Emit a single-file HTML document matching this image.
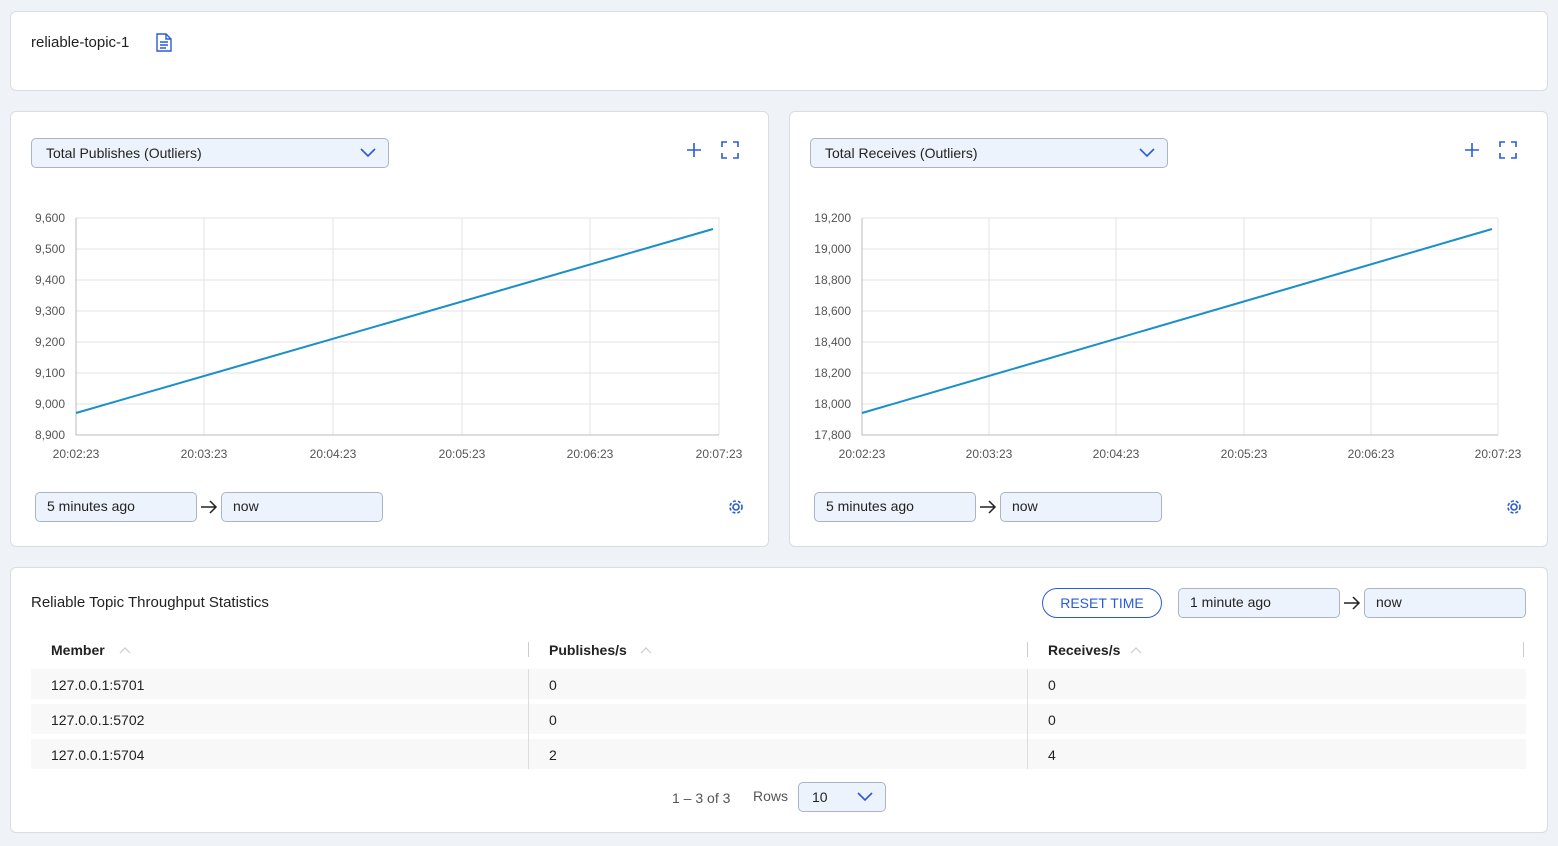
<!DOCTYPE html><html><head><style>
body{margin:0;width:1558px;height:846px;background:#eff2f6;font-family:"Liberation Sans",sans-serif;position:relative;overflow:hidden;color:#222}
.card{position:absolute;background:#fff;border:1px solid #d8dde4;border-radius:6px;box-sizing:border-box}
.a{position:absolute;white-space:nowrap}
.sel{position:absolute;background:#edf3fd;border:1px solid #aab4c3;border-radius:5px;box-sizing:border-box;font-size:14px;color:#222;padding-left:14px;line-height:28px}
.inp{position:absolute;background:#edf3fd;border:1px solid #aab4c3;border-radius:5px;box-sizing:border-box;font-size:14px;padding-left:11px;line-height:27px}
.th{position:absolute;font-size:14px;font-weight:bold;color:#222}
.row{position:absolute;left:31px;width:1495px;height:30px;background:#f8f8f8}
.td{position:absolute;font-size:14px}
.sep{position:absolute;width:1px;background:#ccc}
</style></head><body>
<div class="card" style="left:10px;top:11px;width:1538px;height:80px"></div>
<div class="a" style="left:31px;top:34px;font-size:15px">reliable-topic-1</div>
<svg class="a" style="left:156px;top:33px" width="16" height="19"><path d="M1 1h9l5 5v12H1z M10 1v5h5 M4 9h8 M4 12h8 M4 15h6" fill="none" stroke="#2a5bd7" stroke-width="1.4"/></svg>

<div class="card" style="left:10px;top:111px;width:759px;height:436px"></div>
<div class="card" style="left:789px;top:111px;width:759px;height:436px"></div>
<div class="sel" style="left:31px;top:138px;width:358px;height:30px">Total Publishes (Outliers)</div>
<div class="sel" style="left:810px;top:138px;width:358px;height:30px">Total Receives (Outliers)</div>
<svg class="a" style="left:0;top:0" width="1558" height="560">
<g stroke="#2a5bd7" stroke-width="1.6" fill="none">
<path d="M361 149l7 7 7-7M1140 149l7 7 7-7"/>
<path d="M694 143v14M687 150h14M1472 143v14M1465 150h14"/>
<path d="M722 147v-5h5M733 142h5v5M738 153v5h-5M727 158h-5v-5"/>
<path d="M1500 147v-5h5M1511 142h5v5M1516 153v5h-5M1505 158h-5v-5"/>
<circle cx="736" cy="507" r="3"/><circle cx="736" cy="507" r="6" stroke-dasharray="3 2"/>
<circle cx="1514" cy="507" r="3"/><circle cx="1514" cy="507" r="6" stroke-dasharray="3 2"/>
</g>
<g stroke="#e3e3e3" stroke-width="1" fill="none">
<path d="M76 218H719M76 249H719M76 280H719M76 311H719M76 342H719M76 373H719M76 404H719M204 218V435M333 218V435M462 218V435M590 218V435M719 218V435"/>
<path d="M862 218H1498M862 249H1498M862 280H1498M862 311H1498M862 342H1498M862 373H1498M862 404H1498M989 218V435M1116 218V435M1244 218V435M1371 218V435M1498 218V435"/>
</g>
<g stroke="#bbb" fill="none"><path d="M76 218V435H719M862 218V435H1498"/></g>
<path d="M76 413L713 229" stroke="#1a8fc9" stroke-width="2" fill="none"/>
<path d="M862 413L1492 229" stroke="#1a8fc9" stroke-width="2" fill="none"/>
<g font-size="12" fill="#555" text-anchor="end" font-family="Liberation Sans">
<text x="65" y="222">9,600</text><text x="65" y="253">9,500</text><text x="65" y="284">9,400</text><text x="65" y="315">9,300</text><text x="65" y="346">9,200</text><text x="65" y="377">9,100</text><text x="65" y="408">9,000</text><text x="65" y="439">8,900</text>
<text x="851" y="222">19,200</text><text x="851" y="253">19,000</text><text x="851" y="284">18,800</text><text x="851" y="315">18,600</text><text x="851" y="346">18,400</text><text x="851" y="377">18,200</text><text x="851" y="408">18,000</text><text x="851" y="439">17,800</text>
</g>
<g font-size="12" fill="#555" text-anchor="middle" font-family="Liberation Sans">
<text x="76" y="458">20:02:23</text><text x="204" y="458">20:03:23</text><text x="333" y="458">20:04:23</text><text x="462" y="458">20:05:23</text><text x="590" y="458">20:06:23</text><text x="719" y="458">20:07:23</text>
<text x="862" y="458">20:02:23</text><text x="989" y="458">20:03:23</text><text x="1116" y="458">20:04:23</text><text x="1244" y="458">20:05:23</text><text x="1371" y="458">20:06:23</text><text x="1498" y="458">20:07:23</text>
</g>
<g stroke="#222" stroke-width="1.5" fill="none"><path d="M201 507h15M210 501l6 6-6 6M980 507h15M989 501l6 6-6 6"/></g>
</svg>
<div class="inp" style="left:35px;top:492px;width:162px;height:30px">5 minutes ago</div>
<div class="inp" style="left:221px;top:492px;width:162px;height:30px">now</div>
<div class="inp" style="left:814px;top:492px;width:162px;height:30px">5 minutes ago</div>
<div class="inp" style="left:1000px;top:492px;width:162px;height:30px">now</div>

<div class="card" style="left:10px;top:567px;width:1538px;height:266px"></div>
<div class="a" style="left:31px;top:594px;font-size:15px">Reliable Topic Throughput Statistics</div>
<div class="a" style="left:1042px;top:588px;width:120px;height:30px;border:1px solid #2a5bd7;border-radius:15px;box-sizing:border-box;color:#2a5bd7;font-size:14px;text-align:center;line-height:28px">RESET TIME</div>
<div class="inp" style="left:1178px;top:588px;width:162px;height:30px">1 minute ago</div>
<svg class="a" style="left:1342px;top:595px" width="20" height="16"><path d="M2 8h15M11 2l6 6-6 6" stroke="#222" stroke-width="1.5" fill="none"/></svg>
<div class="inp" style="left:1364px;top:588px;width:162px;height:30px">now</div>
<div class="th" style="left:51px;top:642px">Member</div>
<div class="th" style="left:549px;top:642px">Publishes/s</div>
<div class="th" style="left:1048px;top:642px">Receives/s</div>
<svg class="a" style="left:0;top:640px" width="1558" height="20"><g stroke="#ccc" stroke-width="1.2" fill="none"><path d="M120 13l5-5 5 5M641 13l5-5 5 5M1131 13l5-5 5 5"/></g></svg>
<div class="sep" style="left:528px;top:642px;height:15px"></div>
<div class="sep" style="left:1027px;top:642px;height:15px"></div>
<div class="sep" style="left:1523px;top:642px;height:15px"></div>
<div class="row" style="top:669px"></div><div class="row" style="top:704px"></div><div class="row" style="top:739px"></div>
<div class="sep" style="left:528px;top:669px;height:100px;background:#ddd"></div>
<div class="sep" style="left:1027px;top:669px;height:100px;background:#ddd"></div>
<div class="td" style="left:51px;top:677px">127.0.0.1:5701</div><div class="td" style="left:549px;top:677px">0</div><div class="td" style="left:1048px;top:677px">0</div>
<div class="td" style="left:51px;top:712px">127.0.0.1:5702</div><div class="td" style="left:549px;top:712px">0</div><div class="td" style="left:1048px;top:712px">0</div>
<div class="td" style="left:51px;top:747px">127.0.0.1:5704</div><div class="td" style="left:549px;top:747px">2</div><div class="td" style="left:1048px;top:747px">4</div>
<div class="a" style="left:672px;top:790px;font-size:14px;color:#555">1 – 3 of 3</div>
<div class="a" style="left:753px;top:788px;font-size:14px;color:#555">Rows</div>
<div class="inp" style="left:798px;top:782px;width:88px;height:30px;line-height:29px;padding-left:13px">10</div>
<svg class="a" style="left:857px;top:791px" width="16" height="10"><path d="M1 2l7 7 7-7" stroke="#2a5bd7" stroke-width="1.6" fill="none"/></svg>
</body></html>
